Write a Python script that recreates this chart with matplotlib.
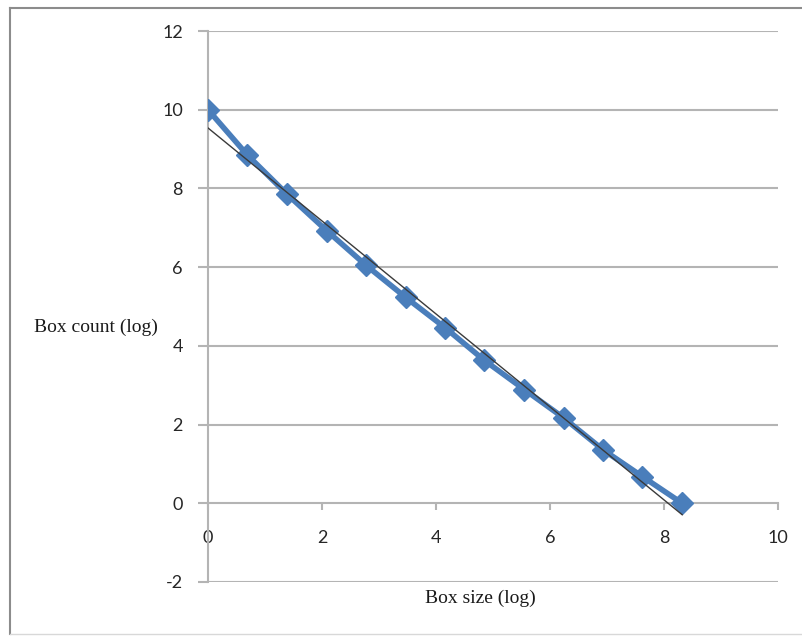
import matplotlib.pyplot as plt
from matplotlib.lines import Line2D
import numpy as np

# box counting data (log scale)
box_size_log = [0, 0.69, 1.39, 2.08, 2.77, 3.47, 4.16, 4.85, 5.55, 6.24, 6.93, 7.62, 8.32]
box_count_log = [10, 8.85, 7.85, 6.93, 6.05, 5.23, 4.46, 3.63, 2.89, 2.17, 1.36, 0.68, 0]
x_ticks = [0, 2, 4, 6, 8, 10]
y_ticks = [-2, 0, 2, 4, 6, 8, 10, 12]

plt.rcParams['axes.unicode_minus'] = False

W, H = 803, 637
fig = plt.figure(figsize=(W / 100, H / 100), dpi=100)
ax = fig.add_axes([208 / W, 1 - 582 / H, (778 - 208) / W, (582 - 31) / H])

grid_col = '#b4b4b4'
for y in y_ticks:
    if y != 0:
        ax.axhline(y, color=grid_col, lw=1.5, zorder=1)

# linear trendline
k, b = np.polyfit(box_size_log, box_count_log, 1)
xs = np.array([box_size_log[0], box_size_log[-1]])
ax.plot(box_size_log, box_count_log, color='#4a7ebb', lw=4, marker='D',
        markersize=11, zorder=3)
ax.plot(xs, k * xs + b, color='#3a3a3a', lw=1, zorder=4)

ax.set_xlim(0, 10)
ax.set_ylim(-2, 12)
ax.set_xticks(x_ticks)
ax.set_yticks(y_ticks)

ax.spines['top'].set_visible(False)
ax.spines['right'].set_visible(False)
ax.spines['bottom'].set_position(('data', 0))
ax.spines['bottom'].set_color(grid_col)
ax.spines['bottom'].set_linewidth(1.5)
ax.spines['left'].set_color(grid_col)
ax.spines['left'].set_linewidth(1.5)

ax.tick_params(axis='x', direction='out', length=5, width=1.5, color=grid_col,
               pad=14, labelsize=13, labelcolor='#262626')
ax.tick_params(axis='y', direction='out', length=7, width=1.5, color=grid_col,
               pad=11, labelsize=13, labelcolor='#262626')
for lab in ax.get_xticklabels() + ax.get_yticklabels():
    lab.set_fontfamily('Lato')

fig.text(96 / W, 1 - 327 / H, 'Box count (log)', ha='center', va='center',
         fontsize=14, family='Liberation Serif', color='#1a1a1a')
fig.text(480 / W, 1 - 598 / H, 'Box size (log)', ha='center', va='center',
         fontsize=14, family='Liberation Serif', color='#1a1a1a')

# chart frame (left, top, bottom edges)
frame_col = '#8c8c8c'
fx0, fx1 = 10 / W, 1.0
fy0, fy1 = 1 - 634 / H, 1 - 8 / H
fig.add_artist(Line2D([fx0, fx0], [fy0, fy1], transform=fig.transFigure,
                      color=frame_col, lw=1.5))
fig.add_artist(Line2D([fx0, fx1], [fy1, fy1], transform=fig.transFigure,
                      color=frame_col, lw=1.5))
fig.add_artist(Line2D([fx0, fx1], [fy0, fy0], transform=fig.transFigure,
                      color='#d8d8d8', lw=1))

fig.savefig('out.png', dpi=100)
